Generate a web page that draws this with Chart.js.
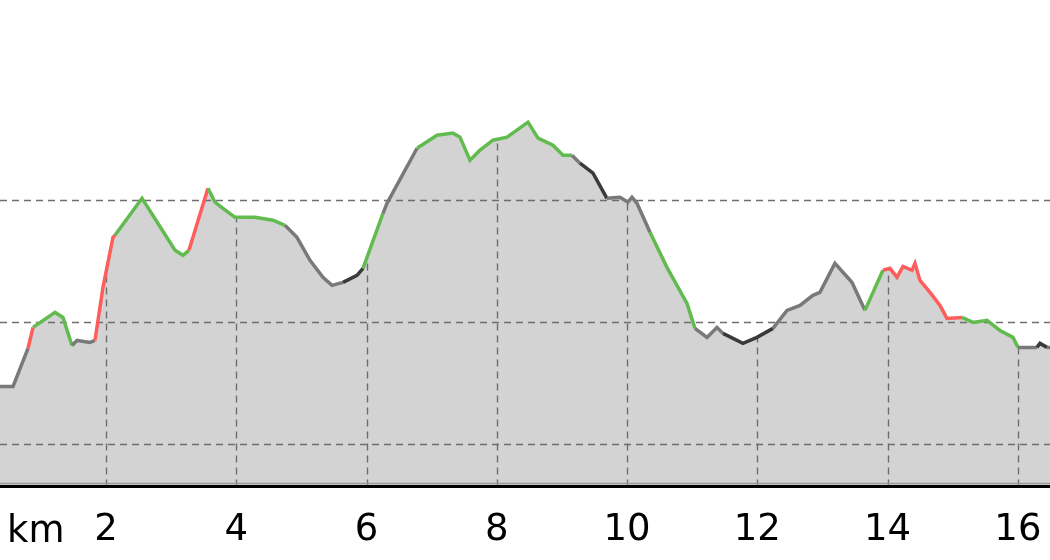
<!DOCTYPE html>
<html>
<head>
<meta charset="utf-8">
<script src="https://cdn.jsdelivr.net/npm/chart.js@4/dist/chart.umd.min.js"></script>
<style>
  html, body { margin: 0; padding: 0; background: #fff; }
</style>
</head>
<body>
<canvas id="profile" width="1050" height="560"></canvas>
<script>
/* ---------- data ---------- */

// distance along the route (km)
const distKm = [
    0.373, 0.573, 0.803, 0.880, 1.218, 1.340, 1.478, 1.555, 1.755, 1.831,
    1.954, 2.108, 2.138, 2.553, 3.060, 3.182, 3.274, 3.566, 3.674, 3.796,
    3.981, 4.288, 4.564, 4.748, 4.932, 5.132, 5.331, 5.470, 5.639, 5.854,
    5.946, 6.253, 6.314, 6.775, 7.082, 7.327, 7.435, 7.588, 7.742, 7.942,
    8.157, 8.479, 8.633, 8.862, 9.016, 9.154, 9.277, 9.477, 9.691, 9.891,
    10.014, 10.075, 10.152, 10.352, 10.612, 10.920, 11.042, 11.227, 11.380, 11.472,
    11.779, 11.994, 12.240, 12.455, 12.655, 12.853, 12.961, 13.191, 13.452, 13.652,
    13.928, 14.036, 14.144, 14.236, 14.374, 14.420, 14.497, 14.651, 14.804, 14.911,
    15.142, 15.311, 15.525, 15.725, 15.925, 16.001, 16.293, 16.339, 16.447, 16.493
];

// elevation (m)
const elevation = [
    147.1, 147.1, 178.3, 195.6, 207.9, 203.8, 180.8, 184.9, 183.3, 184.9,
    228.5, 269.6, 271.2, 301.6, 258.9, 254.8, 258.9, 309.9, 298.4, 293.4,
    286.0, 286.0, 283.6, 279.4, 269.6, 250.7, 236.7, 230.1, 232.6, 238.4,
    244.1, 289.3, 297.5, 342.7, 353.4, 355.1, 351.8, 332.9, 341.1, 349.3,
    351.8, 364.1, 351.0, 345.2, 337.0, 337.0, 330.4, 322.2, 301.6, 302.5,
    298.4, 302.5, 297.5, 273.7, 244.9, 215.3, 194.8, 187.4, 195.6, 190.7,
    182.5, 187.4, 194.8, 209.6, 213.7, 221.9, 224.4, 248.2, 232.6, 209.6,
    242.5, 244.1, 236.7, 245.7, 242.5, 248.2, 234.2, 224.4, 213.7, 203.0,
    203.8, 199.7, 201.4, 193.1, 187.4, 179.2, 179.2, 182.5, 179.2, 179.2
];

// zone of the stretch starting at each point: 0 normal, 1 slow, 2 good, 3 hard
const zone = [
    0, 0, 3, 2, 2, 2, 0, 0, 0, 3,
    3, 3, 2, 2, 2, 2, 3, 2, 2, 2,
    2, 2, 2, 0, 0, 0, 0, 0, 1, 1,
    2, 0, 0, 2, 2, 2, 2, 2, 2, 2,
    2, 2, 2, 2, 2, 0, 1, 1, 0, 0,
    0, 0, 0, 2, 2, 2, 0, 0, 0, 1,
    1, 1, 0, 0, 0, 0, 0, 0, 0, 2,
    3, 3, 3, 3, 3, 3, 3, 3, 3, 3,
    2, 2, 2, 2, 2, 0, 1, 1, 0, 0
];

const xTicks = [2, 4, 6, 8, 10, 12, 14, 16];
const yTicks = [100, 200, 300];

/* ---------- styles ---------- */

const zoneColours = ['#797979', '#3a3a3a', '#62bb4e', '#ff5c5c'];
const gridColour = '#6e6e6e';
const tickFont = { family: 'DejaVu Sans', size: 37 };

/* ---------- helpers ---------- */

function elevationAt(km) {
    for (let i = 0; i < distKm.length - 1; i++) {
        if (km >= distKm[i] && km <= distKm[i + 1]) {
            const t = (km - distKm[i]) / (distKm[i + 1] - distKm[i]);
            return elevation[i] + t * (elevation[i + 1] - elevation[i]);
        }
    }
    return elevation[elevation.length - 1];
}

const points = distKm.map((d, i) => ({ x: d, y: elevation[i] }));

// grid goes on top of the fill but under the line;
// vertical lines stop at the profile
const profileGrid = {
    id: 'profileGrid',
    beforeDatasetDraw(chart, args) {
        if (args.index !== 1) return;   // after the fill only
        const { ctx, chartArea, scales: { x, y } } = chart;
        ctx.save();
        ctx.strokeStyle = gridColour;
        ctx.lineWidth = 1.4;
        ctx.setLineDash([7, 5]);

        yTicks.forEach(v => {
            const py = Math.round(y.getPixelForValue(v)) + 0.5;
            ctx.beginPath();
            ctx.moveTo(chartArea.left, py);
            ctx.lineTo(chartArea.right, py);
            ctx.stroke();
        });

        xTicks.forEach(v => {
            const px = Math.round(x.getPixelForValue(v)) + 0.5;
            const top = y.getPixelForValue(elevationAt(v));
            ctx.beginPath();
            ctx.moveTo(px, chartArea.bottom);
            ctx.lineTo(px, top);
            ctx.stroke();
        });
        ctx.restore();
    },
    afterDraw(chart) {
        const { ctx, chartArea } = chart;
        ctx.save();
        ctx.strokeStyle = '#9a9a9a';
        ctx.lineWidth = 1.5;
        ctx.beginPath();
        ctx.moveTo(chartArea.left, chartArea.bottom - 3);
        ctx.lineTo(chartArea.right, chartArea.bottom - 3);
        ctx.stroke();

        ctx.strokeStyle = '#000';
        ctx.lineWidth = 3;
        ctx.beginPath();
        ctx.moveTo(chartArea.left, chartArea.bottom);
        ctx.lineTo(chartArea.right, chartArea.bottom);
        ctx.stroke();

        ctx.fillStyle = '#000';
        ctx.font = `${tickFont.size}px ${tickFont.family}`;
        ctx.textBaseline = 'alphabetic';
        ctx.textAlign = 'left';
        ctx.fillText('km', 7, 542);
        ctx.restore();
    }
};

/* ---------- chart ---------- */

new Chart(document.getElementById('profile'), {
    type: 'line',
    data: {
        datasets: [
            {
                // coloured profile line (drawn on top)
                data: points,
                borderColor: zoneColours[0],
                borderWidth: 3.5,
                fill: false,
                pointRadius: 0,
                tension: 0,
                segment: {
                    borderColor: c => zoneColours[zone[c.p0DataIndex]]
                }
            },
            {
                // grey area under the profile
                data: points,
                borderWidth: 0,
                backgroundColor: '#d3d3d3',
                fill: 'start',
                pointRadius: 0,
                tension: 0
            }
        ]
    },
    options: {
        responsive: false,
        animation: false,
        layout: { padding: { left: 0, right: 0, top: 0, bottom: 7 } },
        plugins: {
            legend: { display: false },
            tooltip: { enabled: false }
        },
        scales: {
            x: {
                type: 'linear',
                min: 0.373,
                max: 16.493,
                afterBuildTicks: scale => {
                    scale.ticks = xTicks.map(v => ({ value: v }));
                },
                grid: { display: false, tickLength: 22 },
                border: { display: false },
                ticks: {
                    color: '#000',
                    font: tickFont,
                    padding: 0,
                    maxRotation: 0,
                    autoSkip: false
                }
            },
            y: {
                display: false,
                min: 64.9,
                max: 464.4
            }
        }
    },
    plugins: [profileGrid]
});
</script>
</body>
</html>
